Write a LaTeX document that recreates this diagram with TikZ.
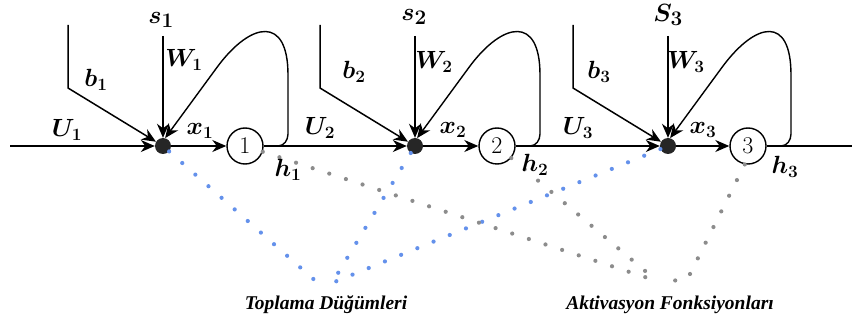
\documentclass[tikz,border=0pt]{standalone}
\usepackage{fontspec}
\newfontfamily\lblserif{Liberation Serif}
\usetikzlibrary{arrows.meta,calc}
\tikzset{
  arr/.style={-{Stealth[length=14pt,width=12pt,inset=4.5pt]}},
  wire/.style={line width=1.5pt},
  sumdot/.style={circle,fill=black!85,inner sep=0pt,minimum size=16pt},
  neuron/.style={circle,draw,line width=1.4pt,minimum size=36pt,inner sep=0pt,font=\fontsize{24}{28}\selectfont},
  lbl/.style={inner sep=0pt,font=\fontsize{25}{30}\selectfont\boldmath},
  slbl/.style={inner sep=0pt,font=\fontsize{28}{32}\selectfont\boldmath},
  botlbl/.style={inner sep=0pt,font=\lblserif\bfseries\itshape\fontsize{19.5}{23}\selectfont},
  bluedots/.style={draw={rgb,255:red,100;green,145;blue,235},line width=4.2pt,line cap=round,dash pattern=on 0pt off 17.5pt},
  graydots/.style={draw={rgb,255:red,140;green,140;blue,140},line width=4.2pt,line cap=round,dash pattern=on 0pt off 17.5pt}
}
\begin{document}
\begin{tikzpicture}[x=1pt,y=1pt]
\useasboundingbox (0,0) rectangle (852,-323);
% nodes
\foreach \i/\d/\c in {1/163/245,2/415/497,3/668/748}{
  \node[sumdot] (s\i) at (\d,-146) {};
  \node[neuron] (n\i) at (\c,-146) {\i};
}
\coordinate (start) at (10,-146);
\coordinate (finish) at (852,-146);
\coordinate (T1) at (319,-284);
\coordinate (T2) at (332,-283);
\coordinate (G) at (657,-281);
\coordinate (GB) at (688,-278);
\coordinate (G3) at (662,-283);
% dotted guides
\draw[bluedots] (s1) -- (T1);
\draw[bluedots] (s2) -- (T2);
\draw[bluedots] (s3) -- (T2);
\draw[graydots] (n1) -- (G);
\draw[graydots] (n2) -- (G);
\draw[graydots] (n3.-100) -- (GB) -- (G3);
% main line
\draw[wire,arr] (start) -- (s1);
\draw[wire,arr] (s1) -- (n1);
\draw[wire,arr] (n1) -- (s2);
\draw[wire,arr] (s2) -- (n2);
\draw[wire,arr] (n2) -- (s3);
\draw[wire,arr] (s3) -- (n3);
\draw[wire] (n3) -- (finish);
% inputs and loops
\foreach \i in {1,2,3}{
  \coordinate (bt\i) at ($(s\i)+(-95,121)$);
  \coordinate (bc\i) at ($(s\i)+(-95,58)$);
  \coordinate (st\i) at ($(s\i)+(0,110)$);
  \draw[wire,arr] (bt\i) -- (bc\i) -- (s\i);
  \draw[wire,arr] (st\i) -- (s\i);
  \draw[line width=1.4pt,arr] ($(n\i)+(33,0)$) to[out=0,in=-90] ($(n\i)+(43,12)$)
     -- ($(n\i)+(43,71)$) .. controls ($(n\i)+(43,131)$) and ($(s\i)+(88,124)$) .. ($(s\i)+(55,80)$)
     -- (s\i.75);
}
% labels
\node[lbl] (U1) at (67,-130) {$U_1$};
\node[lbl] (U2) at (320,-128) {$U_2$};
\node[lbl] (U3) at (578,-128) {$U_3$};
\node[lbl] (x1) at (200,-131) {$x_1$};
\node[lbl] (x2) at (453,-130) {$x_2$};
\node[lbl] (x3) at (703,-130) {$x_3$};
\node[lbl] (W1) at (184,-60) {$W_1$};
\node[lbl] (W2) at (434,-62) {$W_2$};
\node[lbl] (W3) at (686,-62) {$W_3$};
\node[lbl] (b1) at (96,-80) {$b_1$};
\node[lbl] (b2) at (354,-72) {$b_2$};
\node[lbl] (b3) at (599,-72) {$b_3$};
\node[lbl] (h1) at (288,-170) {$h_1$};
\node[lbl] (h2) at (535,-165) {$h_2$};
\node[lbl] (h3) at (785,-167) {$h_3$};
\node[slbl] (S1) at (161,-20) {$s_1$};
\node[slbl] (S2) at (414,-17) {$s_2$};
\node[slbl] (S3) at (668,-15) {$S_3$};
\node[botlbl] (top) at (326,-305) {Toplama Düğümleri};
\node[botlbl] (akt) at (670,-305) {Aktivasyon Fonksiyonları};
\end{tikzpicture}
\end{document}
